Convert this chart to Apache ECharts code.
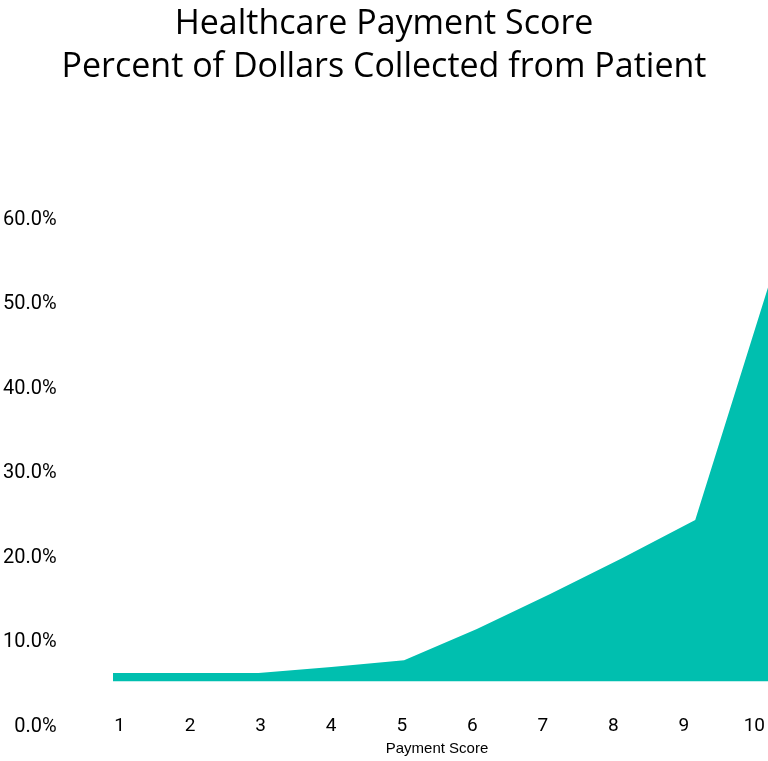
<!DOCTYPE html>
<html>
<head>
<meta charset="utf-8">
<script src="https://cdn.jsdelivr.net/npm/echarts@6/dist/echarts.min.js"></script>
<style>
  html, body { margin: 0; padding: 0; background: #fff; }
  #chart { width: 768px; height: 761px; }
</style>
</head>
<body>
<div id="chart"></div>
<script>
// payment score categories and share of dollars collected (percent)
var scores = ['1', '2', '3', '4', '5', '6', '7', '8', '9', '10'];
var collected = [6.4, 6.4, 6.4, 7.1, 7.9, 11.6, 15.7, 20.0, 24.5, 52.0];
var areaBase = 5.4;   // area is filled down to this level, not to 0
var yTicks = [0, 10, 20, 30, 40, 50, 60];

var myChart = echarts.init(document.getElementById('chart'));

var option = {
  animation: false,
  title: {
    text: 'Healthcare Payment Score\nPercent of Dollars Collected from Patient',
    left: 'center',
    top: 3,
    padding: 0,
    textStyle: {
      fontFamily: 'Open Sans',
      fontSize: 34,
      fontWeight: 'normal',
      lineHeight: 43,
      color: '#000'
    }
  },
  grid: [
    // grid 0 carries the visible labels
    { left: 118, right: 13, top: 220, bottom: 34 },
    // grid 1 carries the area itself
    { left: 113, right: 0, top: 220, bottom: 34 }
  ],
  xAxis: [
    {
      gridIndex: 0,
      type: 'category',
      boundaryGap: false,
      data: scores,
      axisLine: { show: false },
      axisTick: { show: false },
      axisLabel: {
        margin: 0,
        verticalAlign: 'middle',
        fontFamily: 'Roboto',
        fontSize: 19,
        color: '#000'
      },
      name: 'Payment Score',
      nameLocation: 'middle',
      nameGap: 21,
      nameTextStyle: {
        fontFamily: 'Liberation Sans',
        fontSize: 15,
        color: '#000',
        verticalAlign: 'middle'
      }
    },
    {
      gridIndex: 1,
      type: 'category',
      boundaryGap: false,
      data: scores,
      show: false
    }
  ],
  yAxis: [
    {
      gridIndex: 0,
      type: 'value',
      min: yTicks[0],
      max: yTicks[yTicks.length - 1],
      interval: 10,
      axisLine: { show: false },
      axisTick: { show: false },
      splitLine: { show: false },
      axisLabel: {
        margin: 63,
        fontFamily: 'Roboto',
        fontSize: 20,
        color: '#000',
        formatter: function (v) { return v.toFixed(1) + '%'; }
      }
    },
    {
      gridIndex: 1,
      type: 'value',
      min: yTicks[0],
      max: yTicks[yTicks.length - 1],
      show: false
    }
  ],
  series: [{
    name: 'Percent Collected',
    type: 'line',
    xAxisIndex: 1,
    yAxisIndex: 1,
    data: collected,
    symbol: 'none',
    lineStyle: { width: 0 },
    areaStyle: { color: '#00BFAF', opacity: 1, origin: areaBase }
  }]
};

myChart.setOption(option);
</script>
</body>
</html>
